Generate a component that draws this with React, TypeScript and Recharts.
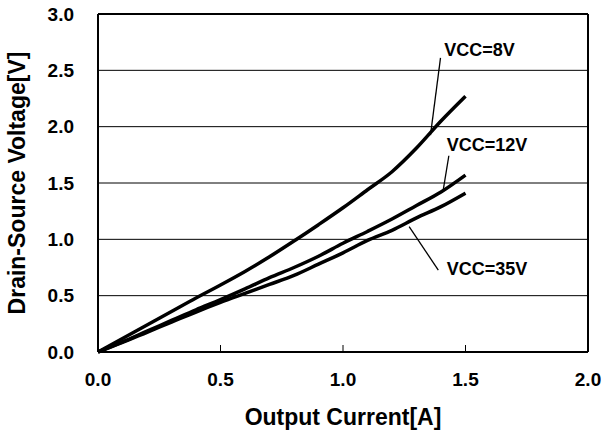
import { CartesianGrid, Line, LineChart, ReferenceDot, ReferenceLine, XAxis, YAxis } from "recharts";

// Output current [A] and drain-source voltage [V]
const CURRENT = [0, 0.1, 0.2, 0.3, 0.4, 0.5, 0.6, 0.7, 0.8, 0.9, 1.0, 1.1, 1.2, 1.3, 1.4, 1.5];
const VCC_8V = [0, 0.12, 0.24, 0.36, 0.48, 0.595, 0.715, 0.845, 0.985, 1.13, 1.28, 1.44, 1.6, 1.81, 2.05, 2.27];
const VCC_12V = [0, 0.09, 0.185, 0.28, 0.375, 0.465, 0.56, 0.66, 0.75, 0.85, 0.965, 1.07, 1.18, 1.3, 1.42, 1.57];
const VCC_35V = [0, 0.085, 0.175, 0.265, 0.355, 0.44, 0.52, 0.6, 0.68, 0.78, 0.88, 0.99, 1.08, 1.19, 1.29, 1.41];

const X_TICKS = [0, 0.5, 1.0, 1.5, 2.0];
const Y_TICKS = [0, 0.5, 1.0, 1.5, 2.0, 2.5, 3.0];

// callout labels: text anchor and leader line ends, in data units
const NOTE_TEXT = ["VCC=8V", "VCC=12V", "VCC=35V"];
const NOTE_AT = [[1.413, 2.68], [1.423, 1.837], [1.423, 0.736]];
const NOTE_FROM = [[1.398, 2.611], [1.432, 1.742], [1.389, 0.727]];
const NOTE_TO = [[1.357, 1.925], [1.409, 1.437], [1.27, 1.112]];

const data = CURRENT.map((x, i) => ({ x, v8: VCC_8V[i], v12: VCC_12V[i], v35: VCC_35V[i] }));

const FONT = "'Liberation Sans', Arial, sans-serif";
const fmt = (v: number) => v.toFixed(1);

function YTitle({ viewBox }: any) {
  const cy = viewBox.y + viewBox.height / 2;
  const x = viewBox.x + 25;
  return (
    <text x={x} y={cy} transform={`rotate(-90, ${x}, ${cy})`} textAnchor="middle"
      fontFamily={FONT} fontWeight="bold" fontSize={23} fill="#000">
      Drain-Source Voltage[V]
    </text>
  );
}

function XTitle({ viewBox }: any) {
  return (
    <text x={viewBox.x + viewBox.width / 2} y={viewBox.y + 73} textAnchor="middle"
      fontFamily={FONT} fontWeight="bold" fontSize={23} fill="#000">
      Output Current[A]
    </text>
  );
}

export default function App() {
  const tickStyle = { fontFamily: FONT, fontWeight: "bold", fontSize: 19, fill: "#000" };
  return (
    <div style={{ position: "absolute", left: 0, top: 0, background: "#fff" }}>
      <LineChart width={602} height={436} data={data} margin={{ top: 14, right: 14, bottom: 0, left: 0 }}>
        <CartesianGrid vertical={false} stroke="#000" strokeWidth={1} />
        <XAxis dataKey="x" type="number" domain={[0, 2]} ticks={X_TICKS} tickFormatter={fmt}
          height={84} tickSize={-7} tickMargin={28} tick={tickStyle}
          axisLine={{ stroke: "#000", strokeWidth: 2 }} tickLine={{ stroke: "#000", strokeWidth: 1 }}
          label={{ content: XTitle }} />
        <YAxis type="number" domain={[0, 3]} ticks={Y_TICKS} tickFormatter={fmt}
          width={98} tickSize={0} tickMargin={24} tick={tickStyle} tickLine={false}
          axisLine={{ stroke: "#000", strokeWidth: 2 }} label={{ content: YTitle }} />
        <ReferenceLine y={3} stroke="#000" strokeWidth={2} />
        <ReferenceLine x={2} stroke="#000" strokeWidth={2} />
        <Line dataKey="v8" type="monotone" stroke="#000" strokeWidth={3.5} dot={false} isAnimationActive={false} />
        <Line dataKey="v12" type="monotone" stroke="#000" strokeWidth={3.5} dot={false} isAnimationActive={false} />
        <Line dataKey="v35" type="monotone" stroke="#000" strokeWidth={3.5} dot={false} isAnimationActive={false} />
        {NOTE_TEXT.map((t, i) => (
          <ReferenceLine key={"l" + t} stroke="#000" strokeWidth={1.3}
            segment={[{ x: NOTE_FROM[i][0], y: NOTE_FROM[i][1] }, { x: NOTE_TO[i][0], y: NOTE_TO[i][1] }]} />
        ))}
        {NOTE_TEXT.map((t, i) => (
          <ReferenceDot key={"d" + t} x={NOTE_AT[i][0]} y={NOTE_AT[i][1]} r={0} fill="none" stroke="none"
            label={{
              content: ({ viewBox }: any) => (
                <text x={viewBox.x} y={viewBox.y} dominantBaseline="central"
                  fontFamily={FONT} fontWeight="bold" fontSize={18} fill="#000">{t}</text>
              ),
            }} />
        ))}
      </LineChart>
    </div>
  );
}
